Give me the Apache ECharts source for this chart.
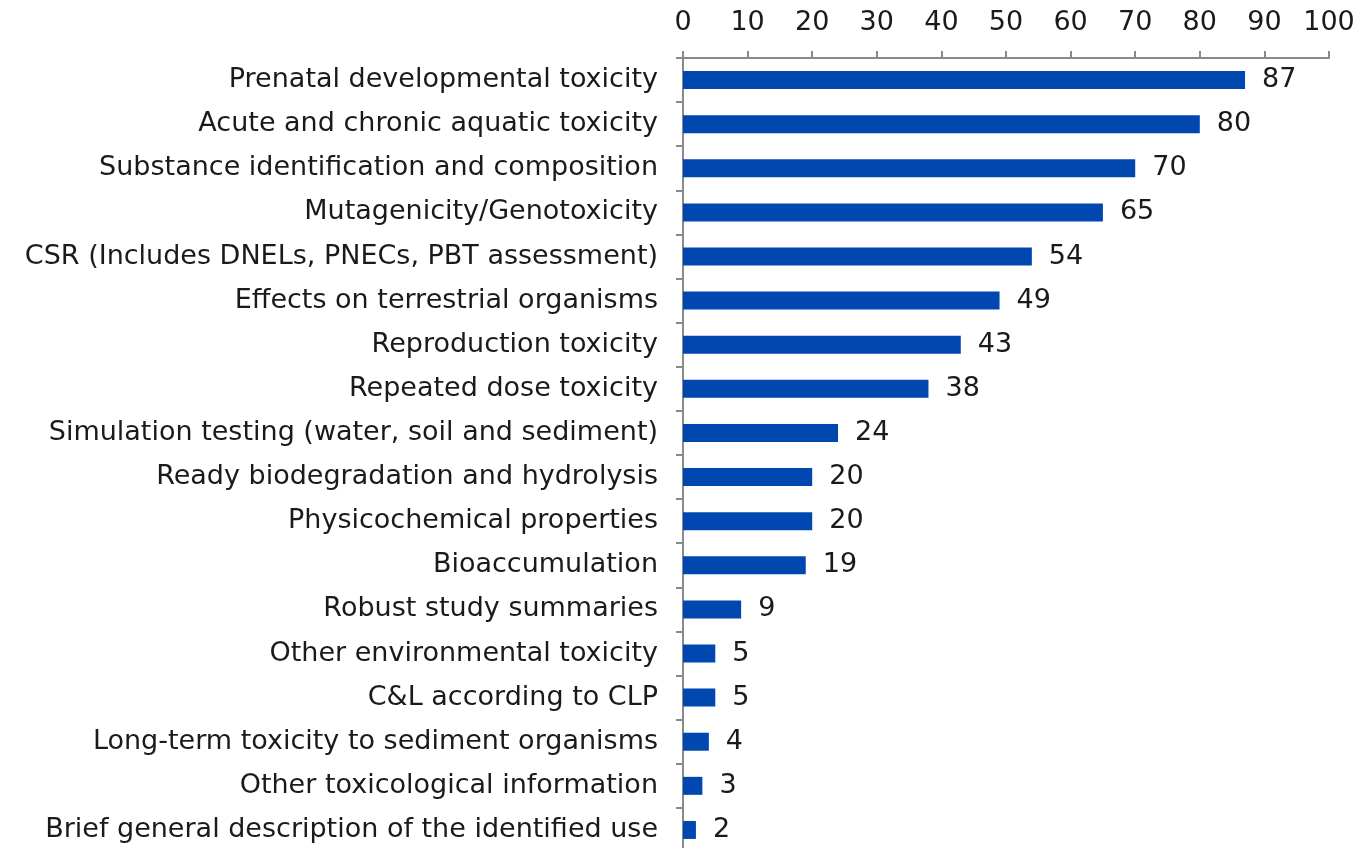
<!DOCTYPE html>
<html>
<head>
<meta charset="utf-8">
<script src="https://cdn.jsdelivr.net/npm/echarts@6/dist/echarts.min.js"></script>
<style>html,body{margin:0;padding:0;background:#fff;}#c{width:1354px;height:848px;}</style>
</head>
<body>
<div id="c"></div>
<script>
var categories = [
  "Prenatal developmental toxicity",
  "Acute and chronic aquatic toxicity",
  "Substance identification and composition",
  "Mutagenicity/Genotoxicity",
  "CSR (Includes DNELs, PNECs, PBT assessment)",
  "Effects on terrestrial organisms",
  "Reproduction toxicity",
  "Repeated dose toxicity",
  "Simulation testing (water, soil and sediment)",
  "Ready biodegradation and hydrolysis",
  "Physicochemical properties",
  "Bioaccumulation",
  "Robust study summaries",
  "Other environmental toxicity",
  "C&L according to CLP",
  "Long-term toxicity to sediment organisms",
  "Other toxicological information",
  "Brief general description of the identified use"
];
var values = [87, 80, 70, 65, 54, 49, 43, 38, 24, 20, 20, 19, 9, 5, 5, 4, 3, 2];
var xTicks = [0, 10, 20, 30, 40, 50, 60, 70, 80, 90, 100];

var chart = echarts.init(document.getElementById('c'));
var font = 'DejaVu Sans, Verdana, sans-serif';
var fs = 27;
chart.setOption({
  animation: false,
  grid: { left: 683, right: 25, top: 58, height: 794, containLabel: false, outerBoundsMode: 'none' },
  xAxis: {
    type: 'value', position: 'top', min: xTicks[0], max: xTicks[xTicks.length - 1], interval: 10,
    axisLine: { show: true, lineStyle: { color: '#8a8a8a', width: 2 } },
    axisTick: { show: true, length: 7, lineStyle: { color: '#8a8a8a', width: 2 } },
    splitLine: { show: false },
    axisLabel: { color: '#1a1a1a', fontSize: fs, fontFamily: font, margin: 22 }
  },
  yAxis: {
    type: 'category', data: categories, inverse: true,
    axisLine: { show: true, lineStyle: { color: '#8a8a8a', width: 2 } },
    axisTick: { show: true, length: 7, alignWithLabel: false, lineStyle: { color: '#8a8a8a', width: 2 } },
    axisLabel: { color: '#1a1a1a', fontSize: fs, fontFamily: font, margin: 25 }
  },
  series: [{
    type: 'bar', data: values, barWidth: 18,
    itemStyle: { color: '#0047b0' },
    label: { show: true, position: 'right', distance: 17, color: '#1a1a1a', fontSize: fs, fontFamily: font }
  }]
});
</script>
</body>
</html>
